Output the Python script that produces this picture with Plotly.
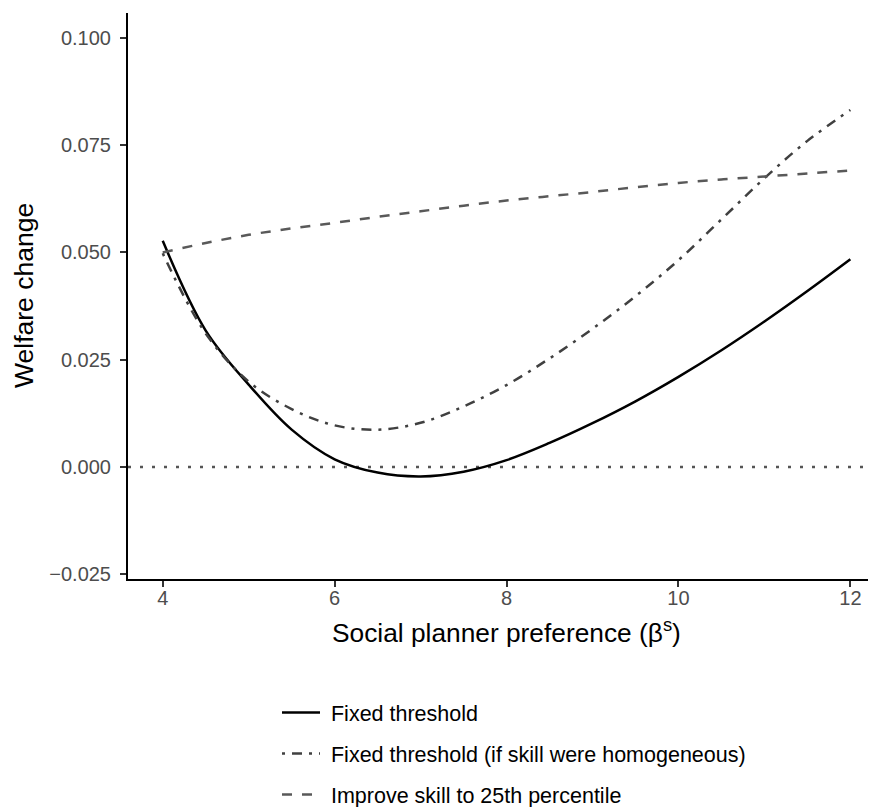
import plotly.graph_objects as go

# ---- data ----
beta = [4.0, 4.5, 5.0, 5.5, 6.0, 6.5, 7.0, 7.5, 8.0, 8.5, 9.0, 9.5, 10.0, 10.5, 11.0, 11.5, 12.0]
fixed_threshold = [0.0527, 0.0318, 0.0192, 0.0087, 0.0018, -0.0013, -0.0022, -0.0011, 0.0016,
                   0.0056, 0.0102, 0.0153, 0.0210, 0.0272, 0.0339, 0.0410, 0.0484]
fixed_threshold_homog = [0.0498, 0.0311, 0.0199, 0.0135, 0.0097, 0.0087, 0.0103, 0.0141, 0.0191,
                         0.0253, 0.0322, 0.0398, 0.0482, 0.0577, 0.0673, 0.0760, 0.0832]
improve_skill = [0.0500, 0.0522, 0.0541, 0.0556, 0.0569, 0.0583, 0.0596, 0.0609, 0.0621,
                 0.0631, 0.0641, 0.0652, 0.0662, 0.0670, 0.0677, 0.0684, 0.0691]

series_names = ["Fixed threshold",
                "Fixed threshold (if skill were homogeneous)",
                "Improve skill to 25th percentile"]

x_ticks = [4, 6, 8, 10, 12]
x_ticklabels = ["4", "6", "8", "10", "12"]
y_ticks = [-0.025, 0.0, 0.025, 0.05, 0.075, 0.1]
y_ticklabels = ["\u22120.025", "0.000", "0.025", "0.050", "0.075", "0.100"]

FONT = "Liberation Sans, Arial, Helvetica, sans-serif"

# page body has an 8px margin: figure sized to fit the 876x807 window
W, H = 868, 799
L, T, B = 120, 5, 228
PW = W - L

fig = go.Figure()
styles = [
    dict(color="#000000", width=2.5, dash="solid"),
    dict(color="#404040", width=2.5, dash="3px,7px,10px,7px"),
    dict(color="#595959", width=2.5, dash="10px,10px"),
]
for i, (name, ys) in enumerate(zip(series_names, [fixed_threshold, fixed_threshold_homog, improve_skill])):
    fig.add_trace(go.Scatter(
        x=beta, y=ys, mode="lines", name="\u00a0" + name,
        line=dict(shape="spline", smoothing=1.0, **styles[i]),
        legendgroup=f"g{i}",
    ))

# horizontal reference line at zero
fig.add_shape(type="line", xref="paper", x0=0, x1=1, yref="y", y0=0, y1=0,
              line=dict(color="#555555", width=2.6, dash="3px,9px"), layer="below")

fig.update_layout(
    width=W, height=H,
    margin=dict(l=L, r=0, t=T, b=B, pad=0, autoexpand=False),
    paper_bgcolor="white", plot_bgcolor="white",
    font=dict(family=FONT, size=21, color="#000000"),
    showlegend=True,
    legend=dict(
        orientation="v", xref="container", yref="container",
        x=269 / W, y=1 - 684 / H, xanchor="left", yanchor="top",
        font=dict(family=FONT, size=21.5, color="#000000"),
        tracegroupgap=10, traceorder="grouped", itemwidth=38,
        bgcolor="rgba(0,0,0,0)",
    ),
    xaxis=dict(
        range=[3.596, 12.298], tickmode="array", tickvals=x_ticks, ticktext=x_ticklabels,
        showgrid=False, zeroline=False, automargin=False,
        showline=True, linecolor="#000000", linewidth=2,
        ticks="outside", ticklen=6, tickwidth=2, tickcolor="#333333",
        ticklabelstandoff=-6,
        tickfont=dict(family=FONT, size=20, color="#4D4D4D"),
    ),
    yaxis=dict(
        range=[-0.0261, 0.1058], tickmode="array", tickvals=y_ticks, ticktext=y_ticklabels,
        showgrid=False, zeroline=False, automargin=False,
        showline=True, linecolor="#000000", linewidth=2,
        ticks="outside", ticklen=6, tickwidth=2, tickcolor="#333333",
        ticklabelstandoff=5,
        tickfont=dict(family=FONT, size=20, color="#4D4D4D"),
    ),
    annotations=[
        dict(text="Social planner preference (\u03b2<sup>s</sup>)", xref="paper", yref="paper",
             x=(506 - 8 - L) / PW, y=0.0, yshift=-52, xanchor="center", yanchor="middle",
             showarrow=False, font=dict(family=FONT, size=26.3, color="#000000")),
        dict(text="Welfare change", xref="paper", yref="paper", textangle=-90,
             x=0, xshift=-104, y=0.5, yshift=0, xanchor="center", yanchor="middle",
             showarrow=False, font=dict(family=FONT, size=26.5, color="#000000")),
    ],
)

fig.write_html("out.html")
